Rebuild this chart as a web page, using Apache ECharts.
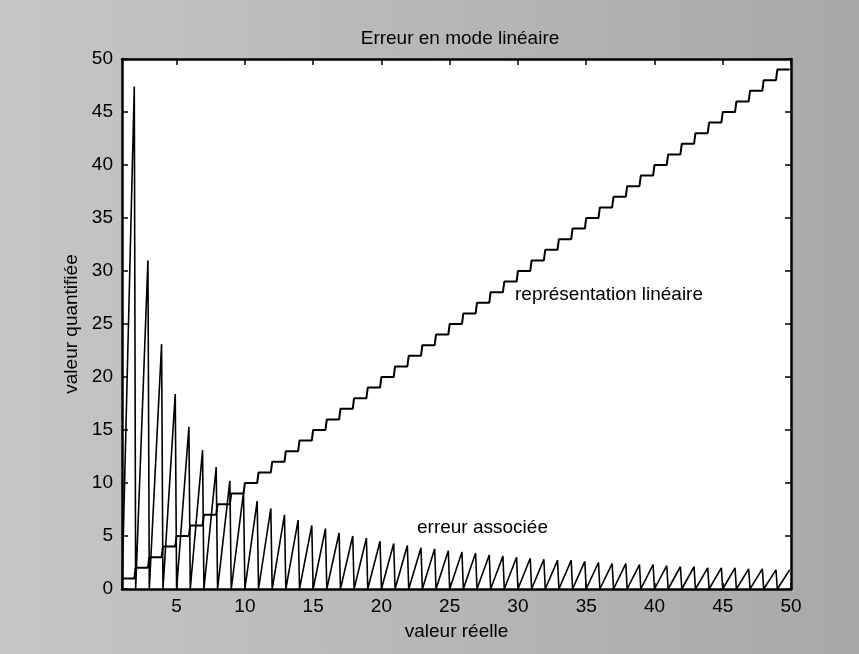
<!DOCTYPE html>
<html>
<head>
<meta charset="utf-8">
<title>Erreur en mode linéaire</title>
<script src="https://cdn.jsdelivr.net/npm/echarts@6/dist/echarts.min.js"></script>
<style>
  html, body { margin: 0; padding: 0; }
  #chart { width: 859px; height: 654px; }
</style>
</head>
<body>
<div id="chart"></div>
<script>
// Start of each quantisation interval (real value)
const intervalStarts = [1,2,3,4,5,6,7,8,9,10,11,12,13,14,15,16,17,18,19,20,21,22,23,24,25,
  26,27,28,29,30,31,32,33,34,35,36,37,38,39,40,41,42,43,44,45,46,47,48,49];
// Quantised value held over each interval
const levels = [1,2,3,4,5,6,7,8,9,10,11,12,13,14,15,16,17,18,19,20,21,22,23,24,25,
  26,27,28,29,30,31,32,33,34,35,36,37,38,39,40,41,42,43,44,45,46,47,48,49];
// Error (%) reached at the last sample of each interval
const errorPeaks = [47.4,31.0,23.1,18.4,15.3,13.1,11.5,10.2,9.1,8.3,7.6,7.0,6.5,6.0,5.7,5.3,
  5.0,4.8,4.5,4.3,4.1,3.9,3.8,3.6,3.5,3.4,3.2,3.1,3.0,2.9,2.8,2.7,2.7,2.6,2.5,2.4,2.4,2.3,
  2.3,2.2,2.1,2.1,2.0,2.0,2.0,1.9,1.9,1.8,1.8];
// Sampling step of the real value; last sample of an interval sits one step before the next
const sampleStep = 0.1;
const xTicks = [5,10,15,20,25,30,35,40,45,50];

const stairData = [];
const errorData = [];
intervalStarts.forEach((start, i) => {
  const last = +(start + 1 - sampleStep).toFixed(2);
  stairData.push([start, levels[i]], [last, levels[i]]);
  errorData.push([start, 0], [last, errorPeaks[i]]);
});

const FONT = 'Liberation Sans';
const FS = 19;
const chart = echarts.init(document.getElementById('chart'));

const baseX = {
  type: 'value', min: 1, max: 50,
  axisLine: { show: true, onZero: false, lineStyle: { color: '#000', width: 2.5 } },
  axisTick: { show: true, inside: true, length: 6, customValues: xTicks, lineStyle: { color: '#000', width: 1.5 } },
  splitLine: { show: false }
};
const baseY = {
  type: 'value', min: 0, max: 50, interval: 5,
  axisLine: { show: true, onZero: false, lineStyle: { color: '#000', width: 2.5 } },
  axisTick: { show: true, inside: true, length: 6, lineStyle: { color: '#000', width: 1.5 } },
  splitLine: { show: false }
};

chart.setOption({
  animation: false,
  backgroundColor: {
    type: 'linear', x: 0, y: 0, x2: 1, y2: 0,
    colorStops: [{ offset: 0, color: '#c6c6c6' }, { offset: 1, color: '#a8a8a8' }]
  },
  title: {
    text: 'Erreur en mode linéaire',
    left: 455, top: 24, textAlign: 'center',
    textStyle: { fontFamily: FONT, fontSize: FS, fontWeight: 'normal', color: '#000' }
  },
  grid: {
    left: 122, right: 68, top: 59, bottom: 65,
    show: true, backgroundColor: '#ffffff', borderColor: '#000', borderWidth: 0
  },
  xAxis: [
    Object.assign({}, baseX, {
      position: 'bottom',
      name: 'valeur réelle', nameLocation: 'middle', nameGap: 33,
      nameTextStyle: { fontFamily: FONT, fontSize: FS, color: '#000' },
      axisLabel: { show: true, customValues: xTicks, margin: 8, fontFamily: FONT, fontSize: FS, color: '#000' }
    }),
    Object.assign({}, baseX, { position: 'top', axisLabel: { show: false } })
  ],
  yAxis: [
    Object.assign({}, baseY, {
      position: 'left',
      name: 'valeur quantifiée', nameLocation: 'middle', nameGap: 32,
      nameTextStyle: { fontFamily: FONT, fontSize: FS, color: '#000' },
      axisLabel: { show: true, margin: 9, fontFamily: FONT, fontSize: FS, color: '#000' }
    }),
    Object.assign({}, baseY, { position: 'right', axisLabel: { show: false } })
  ],
  series: [
    {
      name: 'représentation linéaire', type: 'line', data: stairData,
      showSymbol: false, silent: true,
      lineStyle: { color: '#000', width: 2 }
    },
    {
      name: 'erreur associée', type: 'line', data: errorData,
      showSymbol: false, silent: true,
      lineStyle: { color: '#000', width: 1.6 }
    }
  ],
  graphic: [
    {
      type: 'text', left: 515, top: 285,
      style: { text: 'représentation linéaire', font: FS + 'px "Liberation Sans"', fill: '#000' }
    },
    {
      type: 'text', left: 417, top: 518,
      style: { text: 'erreur associée', font: FS + 'px "Liberation Sans"', fill: '#000' }
    }
  ]
});
</script>
</body>
</html>
